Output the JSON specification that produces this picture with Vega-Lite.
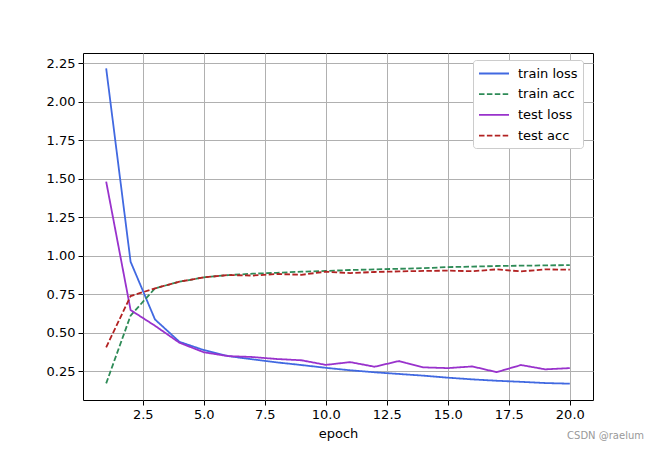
{
  "$schema": "https://vega.github.io/schema/vega-lite/v6.json",
  "width": 510,
  "height": 347,
  "autosize": {"type": "none"},
  "padding": {"left": 83, "top": 53, "right": 66, "bottom": 49},
  "background": "white",
  "config": {
    "font": "DejaVu Sans",
    "view": {"stroke": "black", "strokeWidth": 1},
    "axis": {
      "domain": false,
      "grid": true,
      "gridColor": "#b0b0b0",
      "gridWidth": 1,
      "tickColor": "black",
      "tickSize": 5,
      "labelColor": "black",
      "labelFontSize": 13,
      "titleFontSize": 13,
      "titleFontWeight": "normal",
      "titleColor": "black"
    },
    "legend": {
      "title": null,
      "orient": "none",
      "legendX": 390,
      "legendY": 7,
      "symbolType": "M-1,0H3",
      "symbolSize": 225,
      "symbolStrokeWidth": 1.8,
      "labelFontSize": 13,
      "labelColor": "black",
      "fillColor": "white",
      "strokeColor": "#cccccc",
      "cornerRadius": 3,
      "padding": 5,
      "rowPadding": 4.7,
      "labelOffset": 23
    }
  },
  "title": {
    "text": "CSDN @raelum",
    "orient": "bottom",
    "anchor": "end",
    "frame": "group",
    "fontSize": 10,
    "fontWeight": "normal",
    "color": "#999999",
    "offset": -9,
    "dx": 51
  },
  "data": {
    "values": [
      {"epoch": 1, "series": "train loss", "value": 2.215},
      {"epoch": 2, "series": "train loss", "value": 0.96},
      {"epoch": 3, "series": "train loss", "value": 0.585},
      {"epoch": 4, "series": "train loss", "value": 0.44},
      {"epoch": 5, "series": "train loss", "value": 0.386},
      {"epoch": 6, "series": "train loss", "value": 0.347},
      {"epoch": 7, "series": "train loss", "value": 0.326},
      {"epoch": 8, "series": "train loss", "value": 0.306},
      {"epoch": 9, "series": "train loss", "value": 0.289},
      {"epoch": 10, "series": "train loss", "value": 0.271},
      {"epoch": 11, "series": "train loss", "value": 0.255},
      {"epoch": 12, "series": "train loss", "value": 0.242},
      {"epoch": 13, "series": "train loss", "value": 0.231},
      {"epoch": 14, "series": "train loss", "value": 0.22},
      {"epoch": 15, "series": "train loss", "value": 0.207},
      {"epoch": 16, "series": "train loss", "value": 0.196},
      {"epoch": 17, "series": "train loss", "value": 0.187},
      {"epoch": 18, "series": "train loss", "value": 0.18},
      {"epoch": 19, "series": "train loss", "value": 0.172},
      {"epoch": 20, "series": "train loss", "value": 0.168},
      {"epoch": 1, "series": "train acc", "value": 0.17},
      {"epoch": 2, "series": "train acc", "value": 0.61},
      {"epoch": 3, "series": "train acc", "value": 0.787},
      {"epoch": 4, "series": "train acc", "value": 0.83},
      {"epoch": 5, "series": "train acc", "value": 0.858},
      {"epoch": 6, "series": "train acc", "value": 0.873},
      {"epoch": 7, "series": "train acc", "value": 0.882},
      {"epoch": 8, "series": "train acc", "value": 0.888},
      {"epoch": 9, "series": "train acc", "value": 0.895},
      {"epoch": 10, "series": "train acc", "value": 0.9},
      {"epoch": 11, "series": "train acc", "value": 0.906},
      {"epoch": 12, "series": "train acc", "value": 0.91},
      {"epoch": 13, "series": "train acc", "value": 0.914},
      {"epoch": 14, "series": "train acc", "value": 0.918},
      {"epoch": 15, "series": "train acc", "value": 0.925},
      {"epoch": 16, "series": "train acc", "value": 0.928},
      {"epoch": 17, "series": "train acc", "value": 0.932},
      {"epoch": 18, "series": "train acc", "value": 0.934},
      {"epoch": 19, "series": "train acc", "value": 0.936},
      {"epoch": 20, "series": "train acc", "value": 0.938},
      {"epoch": 1, "series": "test loss", "value": 1.48},
      {"epoch": 2, "series": "test loss", "value": 0.646},
      {"epoch": 3, "series": "test loss", "value": 0.544},
      {"epoch": 4, "series": "test loss", "value": 0.434},
      {"epoch": 5, "series": "test loss", "value": 0.372},
      {"epoch": 6, "series": "test loss", "value": 0.347},
      {"epoch": 7, "series": "test loss", "value": 0.341},
      {"epoch": 8, "series": "test loss", "value": 0.328},
      {"epoch": 9, "series": "test loss", "value": 0.32},
      {"epoch": 10, "series": "test loss", "value": 0.29},
      {"epoch": 11, "series": "test loss", "value": 0.308},
      {"epoch": 12, "series": "test loss", "value": 0.278},
      {"epoch": 13, "series": "test loss", "value": 0.315},
      {"epoch": 14, "series": "test loss", "value": 0.274},
      {"epoch": 15, "series": "test loss", "value": 0.269},
      {"epoch": 16, "series": "test loss", "value": 0.28},
      {"epoch": 17, "series": "test loss", "value": 0.243},
      {"epoch": 18, "series": "test loss", "value": 0.289},
      {"epoch": 19, "series": "test loss", "value": 0.261},
      {"epoch": 20, "series": "test loss", "value": 0.269},
      {"epoch": 1, "series": "test acc", "value": 0.404},
      {"epoch": 2, "series": "test acc", "value": 0.737},
      {"epoch": 3, "series": "test acc", "value": 0.787},
      {"epoch": 4, "series": "test acc", "value": 0.83},
      {"epoch": 5, "series": "test acc", "value": 0.858},
      {"epoch": 6, "series": "test acc", "value": 0.873},
      {"epoch": 7, "series": "test acc", "value": 0.87},
      {"epoch": 8, "series": "test acc", "value": 0.88},
      {"epoch": 9, "series": "test acc", "value": 0.875},
      {"epoch": 10, "series": "test acc", "value": 0.895},
      {"epoch": 11, "series": "test acc", "value": 0.886},
      {"epoch": 12, "series": "test acc", "value": 0.893},
      {"epoch": 13, "series": "test acc", "value": 0.897},
      {"epoch": 14, "series": "test acc", "value": 0.9},
      {"epoch": 15, "series": "test acc", "value": 0.902},
      {"epoch": 16, "series": "test acc", "value": 0.898},
      {"epoch": 17, "series": "test acc", "value": 0.91},
      {"epoch": 18, "series": "test acc", "value": 0.897},
      {"epoch": 19, "series": "test acc", "value": 0.91},
      {"epoch": 20, "series": "test acc", "value": 0.908}
    ]
  },
  "mark": {"type": "line", "strokeWidth": 1.8, "clip": true},
  "encoding": {
    "x": {
      "field": "epoch",
      "type": "quantitative",
      "scale": {"domain": [0.05, 20.95], "nice": false, "zero": false},
      "axis": {"values": [2.5, 5, 7.5, 10, 12.5, 15, 17.5, 20], "format": ".1f", "title": "epoch", "titlePadding": 6, "labelPadding": 3}
    },
    "y": {
      "field": "value",
      "type": "quantitative",
      "scale": {"domain": [0.062, 2.315], "nice": false, "zero": false},
      "axis": {"values": [0.25, 0.5, 0.75, 1.0, 1.25, 1.5, 1.75, 2.0, 2.25], "format": ".2f", "title": null, "labelPadding": 3}
    },
    "color": {
      "field": "series",
      "type": "nominal",
      "sort": ["train loss", "train acc", "test loss", "test acc"],
      "scale": {"domain": ["train loss", "train acc", "test loss", "test acc"], "range": ["#4169e1", "#2e8b57", "#9932cc", "#b22222"]}
    },
    "strokeDash": {
      "field": "series",
      "type": "nominal",
      "sort": ["train loss", "train acc", "test loss", "test acc"],
      "scale": {"domain": ["train loss", "train acc", "test loss", "test acc"], "range": [[1, 0], [5.5, 2.4], [1, 0], [5.5, 2.4]]}
    }
  }
}
